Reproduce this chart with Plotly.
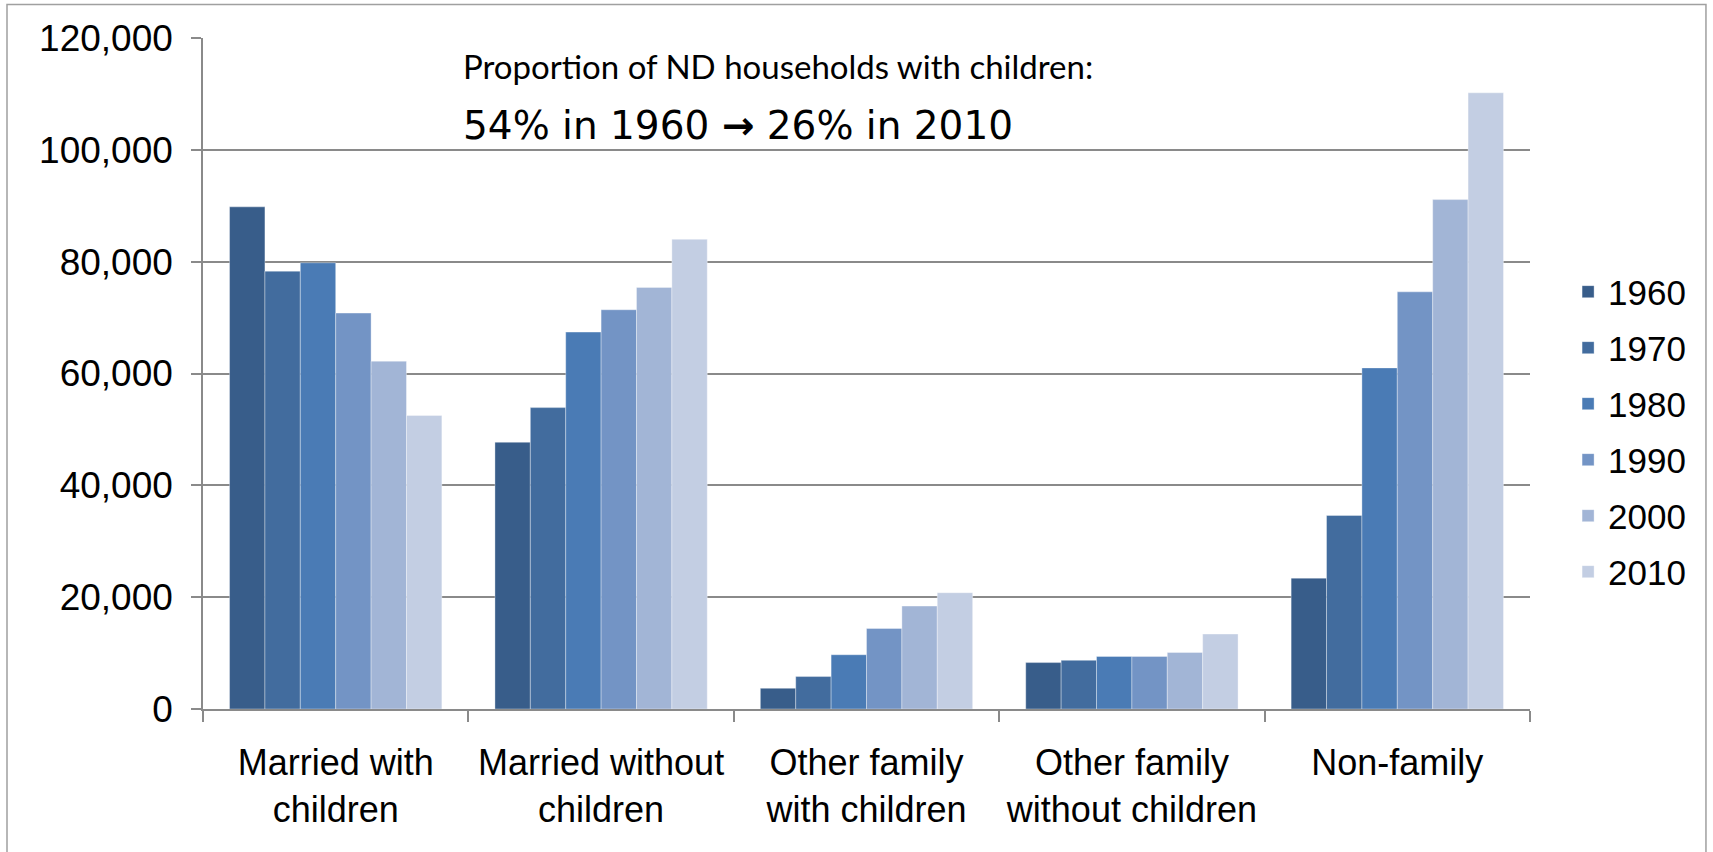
import plotly.graph_objects as go

categories = ["Married with<br>children", "Married without<br>children",
              "Other family<br>with children", "Other family<br>without children",
              "Non-family"]
years = ["1960", "1970", "1980", "1990", "2000", "2010"]

v1960 = [89800, 47700, 3700, 8300, 23400]
v1970 = [78300, 53900, 5800, 8700, 34600]
v1980 = [79800, 67400, 9700, 9400, 61000]
v1990 = [70800, 71400, 14400, 9400, 74600]
v2000 = [62200, 75400, 18400, 10100, 91100]
v2010 = [52500, 84000, 20800, 13400, 110200]
series = [v1960, v1970, v1980, v1990, v2000, v2010]

colors = ["#385D8A", "#426C9E", "#4A7BB5", "#7394C5", "#A2B5D6", "#C3CEE3"]

y_ticks = [0, 20000, 40000, 60000, 80000, 100000, 120000]

note_line1 = "Proportion of ND households with children:"
note_line2 = "54% in 1960 <b>\u2192</b> 26% in 2010"

fig = go.Figure()
for yr, vals, col in zip(years, series, colors):
    fig.add_trace(go.Bar(
        name=yr, x=categories, y=vals, legendgroup=yr,
        marker=dict(color=col, line=dict(color="rgba(255,255,255,0.35)", width=1)),
    ))

base_family = "Arial, Liberation Sans, sans-serif"
axis_font = dict(family=base_family, size=37, color="#000000")
xlab_font = dict(family=base_family, size=36, color="#000000")
legend_font = dict(family=base_family, size=35, color="#000000")
grid_col = "#8A8A8A"

fig.update_layout(
    width=1713, height=852,
    margin=dict(l=203, r=183, t=38, b=143, autoexpand=False),
    paper_bgcolor="white", plot_bgcolor="white",
    barmode="group", bargap=0.2, bargroupgap=0,
    font=legend_font,
    legend=dict(x=1.0287, xanchor="left", y=0.413, yanchor="middle",
                font=legend_font, tracegroupgap=7.5, bgcolor="rgba(0,0,0,0)"),
    xaxis=dict(type="category", tickson="boundaries", ticks="outside", ticklen=11,
               tickwidth=1.5, tickcolor=grid_col, showline=True, linecolor=grid_col,
               linewidth=1.5, showgrid=False, tickfont=xlab_font, automargin=False,
               tickangle=0, ticklabelstandoff=21),
    yaxis=dict(range=[0, 120000], tickvals=y_ticks, tickformat=",", ticks="outside",
               ticklen=10, tickwidth=1.5, tickcolor=grid_col, showline=True,
               linecolor=grid_col, linewidth=1.5, showgrid=True, gridcolor=grid_col,
               gridwidth=1.5, zeroline=False, tickfont=axis_font, automargin=False,
               ticklabelstandoff=11),
    shapes=[dict(type="rect", xref="paper", yref="paper", x0=-0.1477, x1=1.1326,
                 y0=-0.225, y1=1.0498, line=dict(color="#A0A0A0", width=1.5),
                 fillcolor="rgba(0,0,0,0)", layer="below")],
    annotations=[
        dict(text=note_line1, xref="paper", yref="paper", x=0.1946, y=0.958,
             xanchor="left", yanchor="middle", showarrow=False,
             font=dict(family="Lato, sans-serif", size=33, color="#000000")),
        dict(text=note_line2, xref="paper", yref="paper", x=0.1946, y=0.869,
             xanchor="left", yanchor="middle", showarrow=False,
             font=dict(family="DejaVu Sans, sans-serif", size=39, color="#000000")),
    ],
)

fig.write_html("out.html", config={"displayModeBar": False},
               post_script="document.body.style.margin='0';")
